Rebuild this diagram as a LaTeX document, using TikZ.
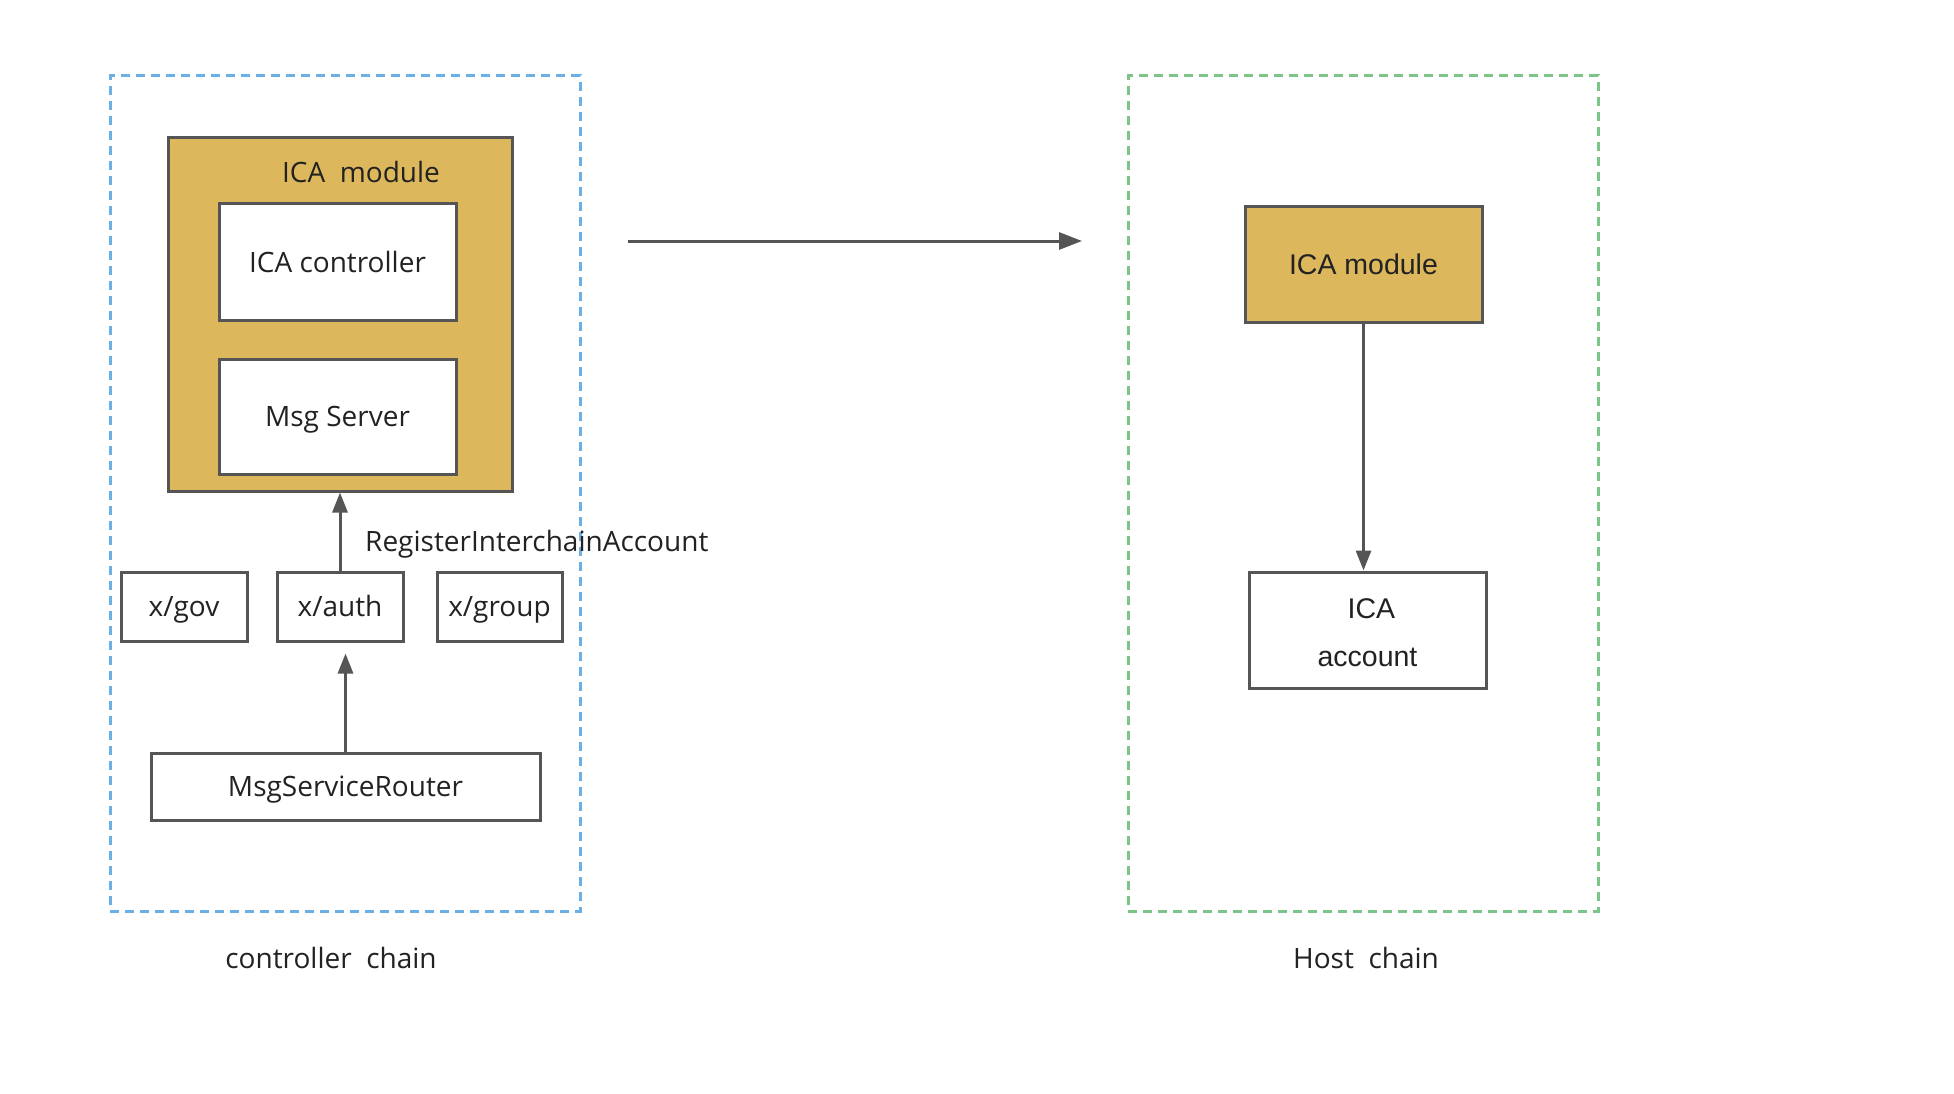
\documentclass[tikz,border=0pt]{standalone}
\usepackage{fontspec}
\setmainfont{Open Sans}
\newfontfamily\hostfont{Liberation Sans}
\usetikzlibrary{arrows.meta,calc}
\definecolor{gold}{HTML}{DDB75C}
\definecolor{edge}{HTML}{555555}
\definecolor{bluedash}{HTML}{6AB0E6}
\definecolor{greendash}{HTML}{7DC489}
\definecolor{txt}{HTML}{222222}
\tikzset{
  chain/.style={draw=#1, line width=3pt, dash pattern=on 9pt off 6pt, minimum width=470pt, minimum height=835pt, inner sep=0pt},
  boxbase/.style={draw=edge, line width=3pt, fill=white, inner sep=0pt, text=txt, font=\fontsize{28}{34}\selectfont},
  boxnode/.style={boxbase, text height=20pt, text depth=0pt},
  goldbox/.style={boxnode, fill=gold},
  lbl/.style={text=txt, inner sep=0pt, font=\fontsize{28}{34}\selectfont, text height=20pt, text depth=0pt},
  conn/.style={draw=edge, line width=3pt, -{Triangle[length=20pt,width=15pt]}},
}
\begin{document}
\begin{tikzpicture}[x=1pt,y=-1pt]
\useasboundingbox[fill=white] (0,0) rectangle (1954,1094);
% containers
\node[chain=bluedash] (ctrl) at (345,493.5) {};
\node[chain=greendash] (host) at (1363,493.5) {};
% controller chain
\node[goldbox, minimum width=344pt, minimum height=353pt] (icamod) at (340,314.5) {};
\node[lbl] (icamodlbl) at (361,173) {ICA\ \ module};
\node[boxnode, minimum width=237pt, minimum height=116pt] (icactrl) at (337.5,262) {ICA controller};
\node[boxnode, minimum width=237pt, minimum height=115pt] (msgsrv) at (337.5,416.5) {Msg Server};
\node[boxnode, minimum width=126pt, minimum height=69pt] (xgov) at (184,606.5) {x/gov};
\node[boxnode, minimum width=126pt, minimum height=69pt] (xauth) at (340,606.5) {x/auth};
\node[boxnode, minimum width=125pt, minimum height=69pt] (xgroup) at (499.5,606.5) {x/group};
\node[boxnode, minimum width=389pt, minimum height=67pt] (router) at (345.5,786.5) {MsgServiceRouter};
\node[lbl, anchor=west] (reglbl) at (365,541) {RegisterInterchainAccount};
\node[lbl] (ctrllbl) at (331,958) {controller\ \ chain};
\draw[conn] (xauth.north) -- (icamod.south);
\draw[conn, shorten >=11pt] (router.north) -- (router.north |- xauth.south);
% middle arrow
\coordinate (mstart) at (628,241);
\coordinate (mend) at (1082,241);
\draw[conn, -{Triangle[length=23pt,width=17pt]}] (mstart) -- (mend);
% host chain
\node[goldbox, minimum width=237pt, minimum height=115pt, font=\hostfont\fontsize{28.5}{34}\selectfont, text height=20.4pt] (hmod) at (1363.5,264.5) {ICA module};
\node[boxbase, minimum width=237pt, minimum height=116pt, align=center, font=\hostfont\fontsize{28.5}{48}\selectfont] (acct) at (1367.5,630) {\rule{0pt}{25pt}\ ICA\\account};
\node[lbl] (hostlbl) at (1366,958) {Host\ \ chain};
\draw[conn] (hmod.south) -- (hmod.south |- acct.north);
\end{tikzpicture}
\end{document}
